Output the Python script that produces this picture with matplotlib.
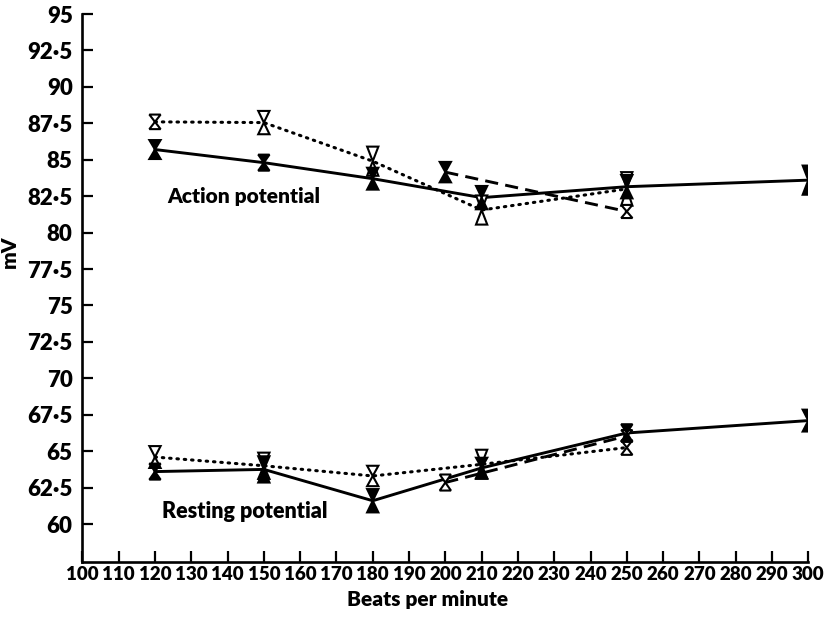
import matplotlib
matplotlib.use("Agg")
import matplotlib.pyplot as plt

plt.rcParams["font.family"] = ["Lato", "DejaVu Sans"]
plt.rcParams["font.weight"] = "heavy"
plt.rcParams["axes.labelweight"] = "heavy"

# beats per minute
ap_solid_x = [120, 150, 180, 210, 250, 300]
ap_solid_y = [85.7, 84.8, 83.7, 82.4, 83.15, 83.6]
ap_solid_se = [0.65, 0.55, 0.75, 0.8, 0.8, 1.0]

ap_dot_x = [120, 150, 180, 210, 250]
ap_dot_y = [87.6, 87.55, 84.9, 81.55, 83.0]
ap_dot_se = [0.5, 0.8, 1.0, 1.0, 1.15]

ap_dash_x = [200, 250]
ap_dash_y = [84.15, 81.45]
ap_dash_se = [0.7, 0.45]

rp_solid_x = [120, 150, 180, 210, 250, 300]
rp_solid_y = [63.6, 63.75, 61.6, 63.85, 66.25, 67.1]
rp_solid_se = [0.55, 0.9, 0.8, 0.7, 0.6, 0.75]

rp_dot_x = [120, 150, 180, 210, 250]
rp_dot_y = [64.6, 64.0, 63.3, 64.1, 65.25]
rp_dot_se = [0.75, 0.9, 0.7, 1.0, 0.5]

rp_dash_x = [200, 250]
rp_dash_y = [62.85, 66.05]
rp_dash_se = [0.55, 0.4]

x_ticks = list(range(100, 301, 10))
y_ticks = [60, 62.5, 65, 67.5, 70, 72.5, 75, 77.5, 80, 82.5, 85, 87.5, 90, 92.5, 95]
y_tick_labels = ["60", "62·5", "65", "67·5", "70", "72·5", "75", "77·5",
                 "80", "82·5", "85", "87·5", "90", "92·5", "95"]

HALF_W = 1.55  # marker half width, x units


def hourglass(ax, xs, ys, ses, filled):
    for x, y, se, f in zip(xs, ys, ses, filled):
        fc = "black" if f else "white"
        z = 5 if f else 4
        for s in (se, -se):
            ax.fill([x - HALF_W, x + HALF_W, x], [y + s, y + s, y],
                    fc=fc, ec="black", lw=1.5, zorder=z, joinstyle="miter")


fig = plt.figure(figsize=(8.28, 6.23), dpi=100)
ax = fig.add_axes([0.0995, 0.098, 0.8767, 0.8795])

solid = dict(color="black", lw=2.1, ls="-", zorder=2)
dotted = dict(color="black", lw=2.2, ls=(0, (0.5, 1.9)), dash_capstyle="round", zorder=2)
dashed = dict(color="black", lw=2.1, ls=(0, (4.5, 2.5)), zorder=2)

ax.plot(ap_solid_x, ap_solid_y, **solid)
ax.plot(ap_dot_x, ap_dot_y, **dotted)
ax.plot(ap_dash_x, ap_dash_y, **dashed)
ax.plot(rp_solid_x, rp_solid_y, **solid)
ax.plot(rp_dot_x, rp_dot_y, **dotted)
ax.plot(rp_dash_x, rp_dash_y, **dashed)

hourglass(ax, ap_dot_x, ap_dot_y, ap_dot_se, [False] * 5)
hourglass(ax, ap_solid_x, ap_solid_y, ap_solid_se, [True] * 6)
hourglass(ax, ap_dash_x, ap_dash_y, ap_dash_se, [True, False])
hourglass(ax, rp_dot_x, rp_dot_y, rp_dot_se, [False] * 5)
hourglass(ax, rp_solid_x, rp_solid_y, rp_solid_se, [True] * 6)
hourglass(ax, rp_dash_x, rp_dash_y, rp_dash_se, [False, False])

ax.text(123.3, 82.0, "Action potential", fontsize=15, va="baseline")
ax.text(122.0, 60.4, "Resting potential", fontsize=15.5, va="baseline")

ax.set_xlim(100, 300)
ax.set_ylim(57.4, 95)
ax.set_xticks(x_ticks)
ax.set_xticklabels([str(t) for t in x_ticks])
ax.set_yticks(y_ticks)
ax.set_yticklabels(y_tick_labels)
for s in ("top", "right"):
    ax.spines[s].set_visible(False)
for s in ("left", "bottom"):
    ax.spines[s].set_linewidth(1.9)
ax.tick_params(axis="both", direction="in", length=8, width=1.6)
ax.tick_params(axis="x", pad=3, labelsize=13.5)
ax.tick_params(axis="y", pad=7, labelsize=16)

ax.set_xlabel("Beats per minute", fontsize=15, x=0.476, labelpad=5)
ax.set_ylabel("mV", fontsize=15, y=0.566, labelpad=6)

fig.savefig("out.png", dpi=100)
